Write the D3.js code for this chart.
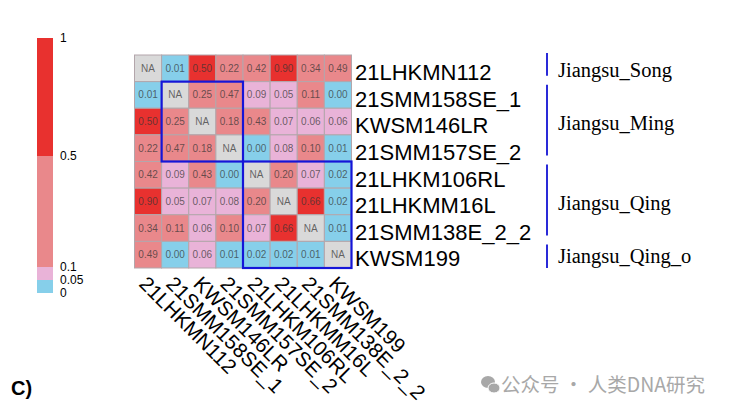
<!DOCTYPE html>
<html>
<head>
<meta charset="utf-8">
<script src="https://d3js.org/d3.v7.min.js"></script>
<style>
  body { margin: 0; padding: 0; background: #fff; }
  svg { display: block; }
</style>
</head>
<body>
<script>
// sample names (rows and columns share the order)
var samples = ["21LHKMN112", "21SMM158SE_1", "KWSM146LR", "21SMM157SE_2",
               "21LHKM106RL", "21LHKMM16L", "21SMM138E_2_2", "KWSM199"];

// pairwise values, null = NA
var values = [
  [null, 0.01, 0.50, 0.22, 0.42, 0.90, 0.34, 0.49],
  [0.01, null, 0.25, 0.47, 0.09, 0.05, 0.11, 0.00],
  [0.50, 0.25, null, 0.18, 0.43, 0.07, 0.06, 0.06],
  [0.22, 0.47, 0.18, null, 0.00, 0.08, 0.10, 0.01],
  [0.42, 0.09, 0.43, 0.00, null, 0.20, 0.07, 0.02],
  [0.90, 0.05, 0.07, 0.08, 0.20, null, 0.66, 0.02],
  [0.34, 0.11, 0.06, 0.10, 0.07, 0.66, null, 0.01],
  [0.49, 0.00, 0.06, 0.01, 0.02, 0.02, 0.01, null]
];

// groups down the right side
var groups     = ["Jiangsu_Song", "Jiangsu_Ming", "Jiangsu_Qing", "Jiangsu_Qing_o"];
var groupFirst = [0, 1, 4, 7];
var groupLast  = [0, 3, 6, 7];

// blue boxes along the diagonal (first, last sample index)
var boxes = [[1, 3], [4, 7]];

// colour key
var breaks     = [0.05, 0.1, 0.5];
var colors     = ["#86cfea", "#e9b3d8", "#e9888b", "#e8312f"];
var keyTicks   = [0, 0.05, 0.1, 0.5, 1];
var keyLabels  = ["0", "0.05", "0.1", "0.5", "1"];

var w = 731, h = 414;

var svg = d3.select("body").append("svg")
    .attr("width", w)
    .attr("height", h);

var x = d3.scaleBand().domain(samples).range([134.5, 351.5]);
var y = d3.scaleBand().domain(samples).range([55, 268]);

var color = d3.scaleThreshold().domain(breaks).range(colors);

var cells = [];
values.forEach(function(row, i) {
  row.forEach(function(v, j) {
    cells.push({ r: samples[i], c: samples[j], v: v });
  });
});

var grid = svg.append("g");

grid.selectAll("rect")
  .data(cells)
  .enter().append("rect")
    .attr("x", function(d) { return x(d.c); })
    .attr("y", function(d) { return y(d.r); })
    .attr("width", x.bandwidth())
    .attr("height", y.bandwidth())
    .attr("fill", function(d) { return d.v === null ? "#d9d9d9" : color(d.v); })
    .attr("stroke", "#b3a6ab")
    .attr("stroke-width", 1);

grid.selectAll("text")
  .data(cells)
  .enter().append("text")
    .attr("x", function(d) { return x(d.c) + x.bandwidth() / 2; })
    .attr("y", function(d) { return y(d.r) + y.bandwidth() / 2; })
    .attr("dy", "0.35em")
    .attr("text-anchor", "middle")
    .attr("font-family", "Liberation Sans, Arial, sans-serif")
    .attr("font-size", 10)
    .attr("fill", "#333")
    .attr("fill-opacity", 0.72)
    .text(function(d) { return d.v === null ? "NA" : d.v.toFixed(2); });

// diagonal boxes
svg.selectAll(".box")
  .data(boxes)
  .enter().append("rect")
    .attr("class", "box")
    .attr("x", function(d) { return x(samples[d[0]]); })
    .attr("y", function(d) { return y(samples[d[0]]); })
    .attr("width", function(d) { return x(samples[d[1]]) + x.bandwidth() - x(samples[d[0]]); })
    .attr("height", function(d) { return y(samples[d[1]]) + y.bandwidth() - y(samples[d[0]]); })
    .attr("fill", "none")
    .attr("stroke", "#1515d8")
    .attr("stroke-width", 2.2);

// row labels
svg.selectAll(".rowlab")
  .data(samples)
  .enter().append("text")
    .attr("class", "rowlab")
    .attr("x", 355)
    .attr("y", function(d) { return y(d) + y.bandwidth() / 2 + 4; })
    .attr("dy", "0.35em")
    .attr("font-family", "Liberation Sans, Arial, sans-serif")
    .attr("font-size", 22)
    .attr("fill", "#000")
    .text(function(d) { return d; });

// column labels, rotated
svg.selectAll(".collab")
  .data(samples)
  .enter().append("text")
    .attr("class", "collab")
    .attr("transform", function(d) {
      return "translate(" + (x(d) + x.bandwidth() / 2 - 5) + ",280) rotate(45)";
    })
    .attr("dy", "0.35em")
    .attr("font-family", "Liberation Sans, Arial, sans-serif")
    .attr("font-size", 20.5)
    .attr("fill", "#000")
    .text(function(d) { return d; });

// group bars and names
var gg = svg.selectAll(".grp")
  .data(groups)
  .enter().append("g")
    .attr("class", "grp");

gg.append("line")
    .attr("x1", 547).attr("x2", 547)
    .attr("y1", function(d, i) { return y(samples[groupFirst[i]]) + (i === 0 ? -2 : 3); })
    .attr("y2", function(d, i) {
      var end = y(samples[groupLast[i]]) + y.bandwidth();
      return i === groups.length - 1 ? end : end - 6;
    })
    .attr("stroke", "#2a2ad8")
    .attr("stroke-width", 2);

gg.append("text")
    .attr("x", 558)
    .attr("y", function(d, i) {
      return (y(samples[groupFirst[i]]) + y(samples[groupLast[i]]) + y.bandwidth()) / 2;
    })
    .attr("dy", "0.4em")
    .attr("font-family", "Liberation Serif, Times New Roman, serif")
    .attr("font-size", 20.5)
    .attr("fill", "#000")
    .text(function(d) { return d; });

// colour key
var ky = d3.scaleLinear().domain(keyTicks).range([293, 280, 267, 156, 38]);
var keyEdges = [0].concat(breaks).concat([1]);

var key = svg.append("g");
key.selectAll("rect")
  .data(colors)
  .enter().append("rect")
    .attr("x", 37)
    .attr("width", 16)
    .attr("y", function(d, i) { return ky(keyEdges[i + 1]); })
    .attr("height", function(d, i) { return ky(keyEdges[i]) - ky(keyEdges[i + 1]); })
    .attr("fill", function(d) { return d; });

key.selectAll("text")
  .data(keyTicks)
  .enter().append("text")
    .attr("x", 60)
    .attr("y", function(d) { return ky(d); })
    .attr("dy", "0.35em")
    .attr("font-family", "Liberation Sans, Arial, sans-serif")
    .attr("font-size", 12)
    .attr("fill", "#000")
    .text(function(d, i) { return keyLabels[i]; });

// panel letter
svg.append("text")
    .attr("x", 11)
    .attr("y", 395)
    .attr("font-family", "Liberation Sans, Arial, sans-serif")
    .attr("font-weight", "bold")
    .attr("font-size", 20)
    .text("C)");

// watermark
var wm = svg.append("g").attr("fill", "#a8a8a8");
wm.append("ellipse").attr("cx", 488).attr("cy", 382).attr("rx", 7).attr("ry", 6);
wm.append("ellipse").attr("cx", 494).attr("cy", 388).attr("rx", 6).attr("ry", 5)
    .attr("stroke", "#fff").attr("stroke-width", 1);
wm.append("text")
    .attr("x", 501)
    .attr("y", 385)
    .attr("dy", "0.35em")
    .attr("font-family", "Noto Sans CJK SC, sans-serif")
    .attr("font-size", 19.5)
    .text("公众号 · 人类DNA研究");
</script>
</body>
</html>
